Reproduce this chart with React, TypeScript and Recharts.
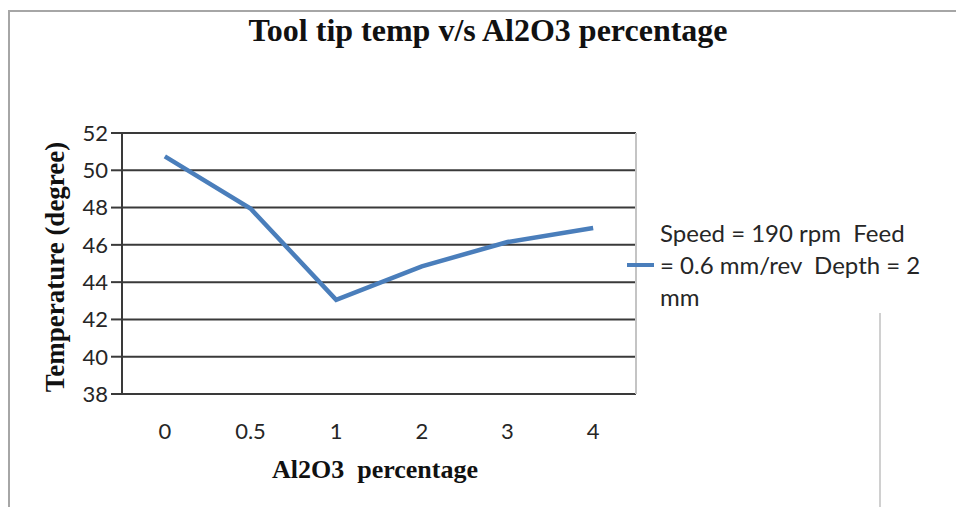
import React from 'react';
import { LineChart, Line, XAxis, YAxis, CartesianGrid, Legend } from 'recharts';

// Al2O3 content (%) and measured tool tip temperature
const percentages = ['0', '0.5', '1', '2', '3', '4'];
const temperatures = [50.75, 47.95, 43.05, 44.85, 46.15, 46.9];
const yTicks = [38, 40, 42, 44, 46, 48, 50, 52];

const seriesName = 'Speed = 190 rpm  Feed = 0.6 mm/rev  Depth = 2 mm';
const LINE_COLOR = '#4a7ebb';
const AXIS_COLOR = '#3a3a3a';
const tickFont = { fontFamily: 'Lato, sans-serif', fontSize: 22, fill: '#262626' };

const data = percentages.map((p, i) => ({ pct: p, temp: temperatures[i] }));

// keep "= value" pieces together when the legend text wraps
const legendText = seriesName.replace(/= /g, '=\u00a0');

const renderLegend = () => (
  <div style={{ display: 'flex', alignItems: 'center' }}>
    <span
      style={{
        display: 'inline-block',
        width: 27,
        height: 4,
        background: LINE_COLOR,
        marginRight: 6,
        flex: 'none'
      }}
    />
    <span
      style={{
        width: 276,
        fontFamily: 'Lato, sans-serif',
        fontSize: 24,
        lineHeight: '32px',
        color: '#262626',
        whiteSpace: 'pre-wrap',
        textAlign: 'left'
      }}
    >
      {legendText}
    </span>
  </div>
);

const YTitle = (props: any) => {
  const cx = 55;
  const cy = 267;
  return (
    <text
      x={cx}
      y={cy}
      transform={`rotate(-90 ${cx} ${cy})`}
      textAnchor="middle"
      dominantBaseline="central"
      style={{ fontFamily: '"Liberation Serif", serif', fontWeight: 'bold', fontSize: 27 }}
      fill="#111"
    >
      {props.value}
    </text>
  );
};

export default function App() {
  return (
    <div
      style={{
        position: 'absolute',
        left: 0,
        top: 0,
        width: 956,
        height: 507,
        overflow: 'hidden',
        background: '#fff'
      }}
    >
      {/* chart frame */}
      <div
        style={{
          position: 'absolute',
          left: 8,
          top: 10,
          width: 980,
          height: 520,
          border: '2px solid #a6a6a6'
        }}
      />
      <div
        style={{
          position: 'absolute',
          left: 879,
          top: 313,
          width: 2,
          height: 200,
          background: '#d0d0d0'
        }}
      />
      <div
        style={{
          position: 'absolute',
          left: 0,
          width: 976,
          top: 12,
          textAlign: 'center',
          fontFamily: '"Liberation Serif", serif',
          fontWeight: 'bold',
          fontSize: 32,
          color: '#111'
        }}
      >
        Tool tip temp v/s Al2O3 percentage
      </div>
      <div
        style={{
          position: 'absolute',
          left: 0,
          width: 750,
          top: 455,
          textAlign: 'center',
          fontFamily: '"Liberation Serif", serif',
          fontWeight: 'bold',
          fontSize: 26,
          whiteSpace: 'pre',
          color: '#111'
        }}
      >
        {'Al2O3  percentage'}
      </div>
      <LineChart
        width={956}
        height={507}
        data={data}
        margin={{ top: 133, right: 0, bottom: 53, left: 62 }}
        style={{ position: 'absolute', left: 0, top: 0 }}
      >
        <CartesianGrid vertical={false} stroke={AXIS_COLOR} strokeWidth={2} />
        <XAxis
          dataKey="pct"
          scale="band"
          height={60}
          tickLine={false}
          tickSize={0}
          tickMargin={29}
          axisLine={{ stroke: AXIS_COLOR, strokeWidth: 2 }}
          tick={tickFont}
        />
        <YAxis
          width={60}
          domain={[38, 52]}
          ticks={yTicks}
          interval={0}
          tickSize={11}
          tickMargin={3}
          axisLine={{ stroke: AXIS_COLOR, strokeWidth: 2 }}
          tickLine={{ stroke: AXIS_COLOR, strokeWidth: 2 }}
          tick={tickFont}
          label={<YTitle value="Temperature (degree)" />}
        />
        <YAxis
          yAxisId="right"
          orientation="right"
          width={1}
          tick={false}
          tickLine={false}
          axisLine={{ stroke: '#c4c4c4', strokeWidth: 2 }}
        />
        <Legend
          layout="vertical"
          align="right"
          verticalAlign="middle"
          content={renderLegend}
          wrapperStyle={{ position: 'absolute', left: 627, top: 217, width: 319 }}
        />
        <Line
          name={seriesName}
          type="linear"
          dataKey="temp"
          stroke={LINE_COLOR}
          strokeWidth={4.5}
          dot={false}
          isAnimationActive={false}
        />
      </LineChart>
    </div>
  );
}
